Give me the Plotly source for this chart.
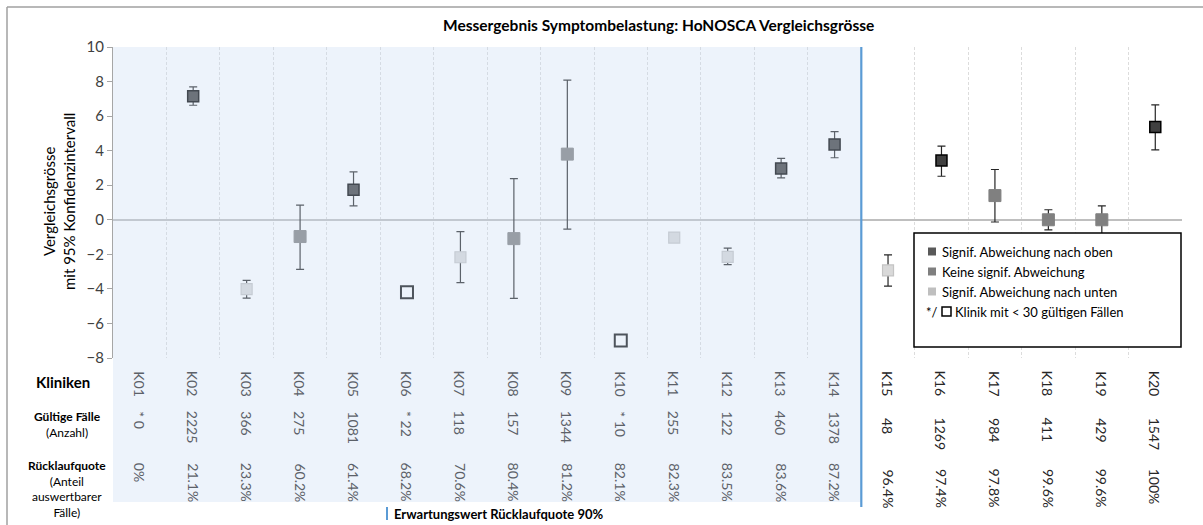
import plotly.graph_objects as go

# ---------------- data ----------------
kliniken = ["K01", "K02", "K03", "K04", "K05", "K06", "K07", "K08", "K09", "K10",
            "K11", "K12", "K13", "K14", "K15", "K16", "K17", "K18", "K19", "K20"]
werte = [None, 7.15, -4.01, -0.97, 1.74, -4.19, -2.17, -1.09, 3.80, -6.98,
         -1.03, -2.15, 2.97, 4.36, -2.93, 3.43, 1.40, 0.0, 0.0, 5.37]
ki_oben = [None, 7.69, -3.51, 0.85, 2.77, None, -0.68, 2.38, 8.08, None,
           None, -1.64, 3.55, 5.10, -2.03, 4.26, 2.91, 0.58, 0.81, 6.65]
ki_unten = [None, 6.63, -4.53, -2.87, 0.81, None, -3.64, -4.55, -0.54, None,
            None, -2.60, 2.42, 3.59, -3.84, 2.52, -0.13, -0.58, -0.80, 4.05]
# oben / keine / unten / klein (< 30 gültige Fälle)
kategorie = ["klein", "oben", "unten", "keine", "oben", "klein", "unten", "keine", "keine", "klein",
             "unten", "unten", "oben", "oben", "unten", "oben", "keine", "keine", "keine", "oben"]
faelle = ["* 0", "2225", "366", "275", "1081", "* 22", "118", "157", "1344", "* 10",
          "255", "122", "460", "1378", "48", "1269", "984", "411", "429", "1547"]
quote = ["0%", "21.1%", "23.3%", "60.2%", "61.4%", "68.2%", "70.6%", "80.4%", "81.2%", "82.1%",
         "82.3%", "83.5%", "83.6%", "87.2%", "96.4%", "97.4%", "97.8%", "99.6%", "99.6%", "100%"]
n_links = 14  # Kliniken unter Erwartungswert Rücklaufquote 90%

legend_labels = ["Signif. Abweichung nach oben", "Keine signif. Abweichung",
                 "Signif. Abweichung nach unten"]

# ---------------- styling ----------------
FONT = "Lato, 'DejaVu Sans', sans-serif"
W, H = 1203, 525
L, R, T, B = 113, 21, 47, 167
PW, PH = W - L - R, H - T - B


def px2x(px):
    return (px - L) / PW


def py2y(py):
    return (H - B - py) / PH


styles = {
    "oben": dict(fill="#404040", line="#000000", lw=1.5, size=11),
    "keine": dict(fill="#808080", line="#808080", lw=1, size=12),
    "unten": dict(fill="#d9d9d9", line="#c4c4c4", lw=1.2, size=11),
    "klein": dict(fill="rgba(0,0,0,0)", line="#111111", lw=2, size=12),
}

fig = go.Figure()

for cat in ["oben", "keine", "unten", "klein"]:
    idx = [i for i, k in enumerate(kategorie) if k == cat and werte[i] is not None]
    xs = [kliniken[i] for i in idx]
    ys = [werte[i] for i in idx]
    up = [(ki_oben[i] - werte[i]) if ki_oben[i] is not None else 0 for i in idx]
    dn = [(werte[i] - ki_unten[i]) if ki_unten[i] is not None else 0 for i in idx]
    st = styles[cat]
    has_err = any(ki_oben[i] is not None for i in idx)
    fig.add_trace(go.Scatter(
        x=xs, y=ys, mode="markers", showlegend=False, hoverinfo="x+y",
        marker=dict(symbol="square-open" if cat == "klein" else "square",
                    size=st["size"], color=st["fill"] if cat != "klein" else st["line"],
                    line=dict(color=st["line"], width=st["lw"])),
        error_y=dict(type="data", symmetric=False, array=up, arrayminus=dn,
                     color="#262626", thickness=1.2, width=4, visible=has_err),
    ))

fig.update_layout(
    width=W, height=H, autosize=False,
    margin=dict(l=L, r=R, t=T, b=B),
    paper_bgcolor="white", plot_bgcolor="white",
    font=dict(family=FONT, color="#262626"),
    showlegend=False,
    xaxis=dict(type="category", categoryarray=kliniken, categoryorder="array",
               range=[-0.5, 19.5], tickson="boundaries", showticklabels=False,
               ticks="", showgrid=True, gridcolor="#dcdcdc", griddash="3px,2px",
               gridwidth=1, zeroline=False, showline=False, fixedrange=True),
    yaxis=dict(range=[-8, 10], dtick=2, tick0=0, showgrid=False,
               zeroline=True, zerolinecolor="#bfbfbf", zerolinewidth=1.5,
               showline=True, linecolor="#a6a6a6", linewidth=1.2,
               ticks="outside", ticklen=5, tickcolor="#a6a6a6",
               tickfont=dict(size=15, color="#404040", family=FONT), fixedrange=True),
)

shapes = []
# shaded overlay for clinics below expected return rate
shapes.append(dict(type="rect", xref="x", yref="paper", x0=-0.5, x1=n_links - 0.5,
                   y0=py2y(502), y1=1, fillcolor="rgba(201,219,243,0.335)",
                   line=dict(width=0), layer="above"))
# blue separator line
shapes.append(dict(type="line", xref="x", yref="paper", x0=n_links - 0.5, x1=n_links - 0.5,
                   y0=py2y(507), y1=1, line=dict(color="#5b9bd5", width=2.2), layer="above"))
# outer frame
shapes.append(dict(type="line", xref="paper", yref="paper", x0=px2x(7), x1=px2x(1203),
                   y0=py2y(7), y1=py2y(7), line=dict(color="#a0a0a0", width=1.5)))
shapes.append(dict(type="line", xref="paper", yref="paper", x0=px2x(7), x1=px2x(7),
                   y0=py2y(7), y1=py2y(525), line=dict(color="#a0a0a0", width=1.5)))
# legend box
shapes.append(dict(type="rect", xref="paper", yref="paper", x0=px2x(914), x1=px2x(1181),
                   y0=py2y(347), y1=py2y(233), fillcolor="white",
                   line=dict(color="#000000", width=1.5), layer="above"))
leg_cols = ["#595959", "#7f7f7f", "#bfbfbf"]
leg_rows = [251.5, 271.5, 291.5]
for c, ry in zip(leg_cols, leg_rows):
    shapes.append(dict(type="rect", xref="paper", yref="paper",
                       x0=px2x(928), x1=px2x(936), y0=py2y(ry + 4), y1=py2y(ry - 4),
                       fillcolor=c, line=dict(width=0), layer="above"))
# hollow square of the last legend row
shapes.append(dict(type="rect", xref="paper", yref="paper",
                   x0=px2x(942), x1=px2x(951), y0=py2y(316), y1=py2y(307),
                   fillcolor="white", line=dict(color="#000000", width=1.5), layer="above"))
# blue marker of the footer note
shapes.append(dict(type="line", xref="paper", yref="paper",
                   x0=px2x(387), x1=px2x(387), y0=py2y(520), y1=py2y(507),
                   line=dict(color="#5b9bd5", width=2)))
fig.update_layout(shapes=shapes)

ann = []
# title
ann.append(dict(xref="paper", yref="paper", x=px2x(658), y=py2y(25), showarrow=False,
                text="<b>Messergebnis Symptombelastung: HoNOSCA Vergleichsgrösse</b>",
                font=dict(size=15.5, color="#000000"), xanchor="center", yanchor="middle"))
# y-axis title
ann.append(dict(xref="paper", yref="paper", x=px2x(59), y=py2y(202), showarrow=False,
                text="Vergleichsgrösse<br>mit 95% Konfidenzintervall", textangle=-90,
                font=dict(size=15, color="#000000"), xanchor="center", yanchor="middle"))
# row headers
ann.append(dict(xref="paper", yref="paper", x=px2x(63), y=py2y(382), showarrow=False,
                text="<b>Kliniken</b>", font=dict(size=15, color="#000000"),
                xanchor="center", yanchor="middle"))
ann.append(dict(xref="paper", yref="paper", x=px2x(67), y=py2y(424), showarrow=False,
                text="<b>Gültige Fälle</b><br>(Anzahl)", font=dict(size=12, color="#000000"),
                xanchor="center", yanchor="middle"))
ann.append(dict(xref="paper", yref="paper", x=px2x(67), y=py2y(489), showarrow=False,
                text="<b>Rücklaufquote</b><br>(Anteil<br>auswertbarer<br>Fälle)",
                font=dict(size=12, color="#000000"), xanchor="center", yanchor="middle"))
# table cells
for i, k in enumerate(kliniken):
    links = i < n_links
    col = "#5c6168" if links else "#262626"
    ann.append(dict(xref="x", yref="paper", x=k, y=py2y(369), showarrow=False, text=k,
                    textangle=90, font=dict(size=14, color=col), xanchor="center", yanchor="top"))
    ann.append(dict(xref="x", yref="paper", x=k, y=py2y(409 if links else 416), showarrow=False,
                    text=faelle[i], textangle=90, font=dict(size=14, color=col),
                    xanchor="center", yanchor="top"))
    ann.append(dict(xref="x", yref="paper", x=k, y=py2y(461 if links else 467), showarrow=False,
                    text=quote[i], textangle=90, font=dict(size=14, color=col),
                    xanchor="center", yanchor="top"))
# legend texts
for lab, ry in zip(legend_labels, leg_rows):
    ann.append(dict(xref="paper", yref="paper", x=px2x(940), y=py2y(ry), showarrow=False,
                    text=lab, font=dict(size=13, color="#000000"), xanchor="left", yanchor="middle"))
ann.append(dict(xref="paper", yref="paper", x=px2x(924), y=py2y(311.5), showarrow=False,
                text="*/", font=dict(size=13, color="#000000"), xanchor="left", yanchor="middle"))
ann.append(dict(xref="paper", yref="paper", x=px2x(953), y=py2y(311.5), showarrow=False,
                text="Klinik mit &lt; 30 gültigen Fällen",
                font=dict(size=13, color="#000000"), xanchor="left", yanchor="middle"))
# footer
ann.append(dict(xref="paper", yref="paper", x=px2x(392), y=py2y(514), showarrow=False,
                text="<b>Erwartungswert Rücklaufquote 90%</b>",
                font=dict(size=13, color="#000000"), xanchor="left", yanchor="middle"))
fig.update_layout(annotations=ann)

fig.write_html("out.html", config={"displayModeBar": False},
               post_script="document.body.style.margin='0';document.body.style.overflow='hidden';")
